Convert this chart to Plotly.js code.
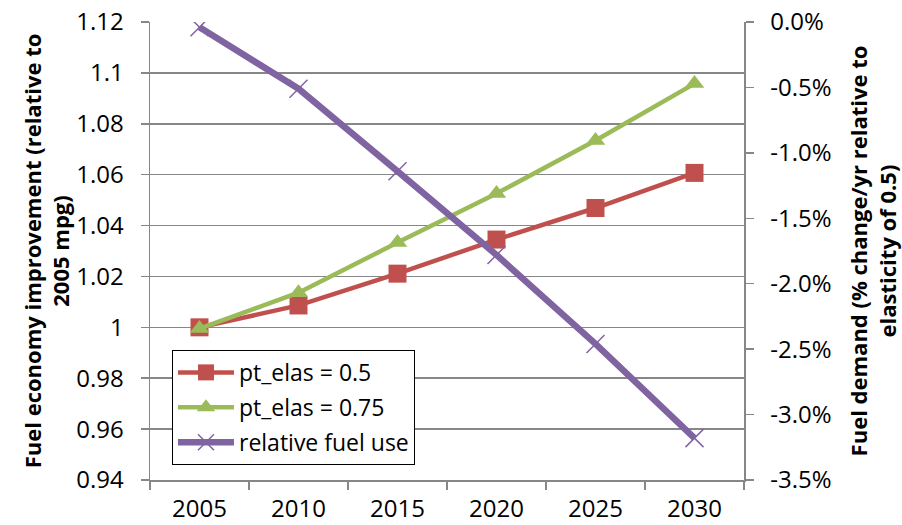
<!DOCTYPE html>
<html>
<head>
<meta charset="utf-8">
<script src="https://cdn.plot.ly/plotly-3.0.1.min.js"></script>
<style>html,body{margin:0;padding:0;background:#fff;}#chart{width:902px;height:525px;}</style>
</head>
<body>
<div id="chart"></div>
<script>
const years = ['2005', '2010', '2015', '2020', '2025', '2030'];
const ptElas05 = [1.0, 1.0086, 1.0211, 1.0345, 1.0469, 1.0607];
const ptElas075 = [0.9995, 1.0136, 1.0333, 1.0526, 1.0734, 1.0958];
const relFuelUse = [-0.0004, -0.0051, -0.0114, -0.0178, -0.0246, -0.0318];
const names = ['pt_elas = 0.5', 'pt_elas = 0.75', 'relative fuel use'];
const rightTickVals = [0, -0.005, -0.01, -0.015, -0.02, -0.025, -0.03, -0.035];
const rightTickText = ['0.0%', '-0.5%', '-1.0%', '-1.5%', '-2.0%', '-2.5%', '-3.0%', '-3.5%'];

const FONT = 'Open Sans, Noto Sans, sans-serif';
const GRID = '#878787';
const FS = 24;

const traces = [
  {x: years, y: ptElas05, name: names[0], type: 'scatter', mode: 'lines+markers', legendgroup: 'a',
   line: {color: '#C0504D', width: 4.5}, marker: {symbol: 'square', size: 18, color: '#C0504D'}},
  {x: years, y: ptElas075, name: names[1], type: 'scatter', mode: 'lines+markers', legendgroup: 'b',
   line: {color: '#9BBB59', width: 4.5}, marker: {symbol: 'triangle-up', size: 17, color: '#9BBB59'}},
  {x: years, y: relFuelUse, name: names[2], type: 'scatter', mode: 'lines+markers', yaxis: 'y2', legendgroup: 'c',
   line: {color: '#8064A2', width: 6.5},
   marker: {symbol: 'x-thin', size: 18, color: '#8064A2', line: {color: '#8064A2', width: 1.5}}}
];

const layout = {
  width: 902, height: 525,
  margin: {l: 150, r: 158, t: 22, b: 45},
  paper_bgcolor: '#fff', plot_bgcolor: '#fff',
  font: {family: FONT, size: FS, color: '#000'},
  showlegend: true,
  legend: {x: 0.037, y: 0.284, xanchor: 'left', yanchor: 'top',
           bordercolor: '#000', borderwidth: 1, bgcolor: '#fff',
           font: {family: FONT, size: 23, color: '#000'}, tracegroupgap: 2, itemwidth: 56},
  xaxis: {type: 'category', range: [-0.5, 5.5], showgrid: false, showline: true, linecolor: GRID, linewidth: 1.5,
          ticks: 'outside', tickson: 'boundaries', ticklen: 8, tickcolor: GRID, tickwidth: 1.5,
          tickfont: {family: FONT, size: FS, color: '#000'}, ticklabelstandoff: 7, zeroline: false},
  yaxis: {range: [0.94, 1.12], dtick: 0.02, tick0: 0.94, showgrid: true, gridcolor: GRID, gridwidth: 1.5,
          showline: true, linecolor: GRID, linewidth: 1.5, ticks: 'outside', ticklen: 8, tickcolor: GRID, tickwidth: 1.5,
          zeroline: false, tickfont: {family: FONT, size: FS, color: '#000'}, ticklabelstandoff: 12,
          title: {text: '<b>Fuel economy improvement (relative to<br>2005 mpg)</b>', font: {family: FONT, size: 22, color: '#000'}, standoff: 0}},
  yaxis2: {overlaying: 'y', side: 'right', range: [-0.035, 0], tickmode: 'array', tickvals: rightTickVals, ticktext: rightTickText,
           showgrid: false, showline: true, linecolor: GRID, linewidth: 1.5, ticks: 'outside', ticklen: 8,
           tickcolor: GRID, tickwidth: 1.5, zeroline: false, tickfont: {family: FONT, size: FS, color: '#000'},
           ticklabelstandoff: 12,
           title: {text: '<b>Fuel demand (% change/yr relative to<br>elasticity of 0.5)</b>', font: {family: FONT, size: 22, color: '#000'}, standoff: 22}}
};

Plotly.newPlot('chart', traces, layout, {displayModeBar: false, staticPlot: true});
</script>
</body>
</html>
